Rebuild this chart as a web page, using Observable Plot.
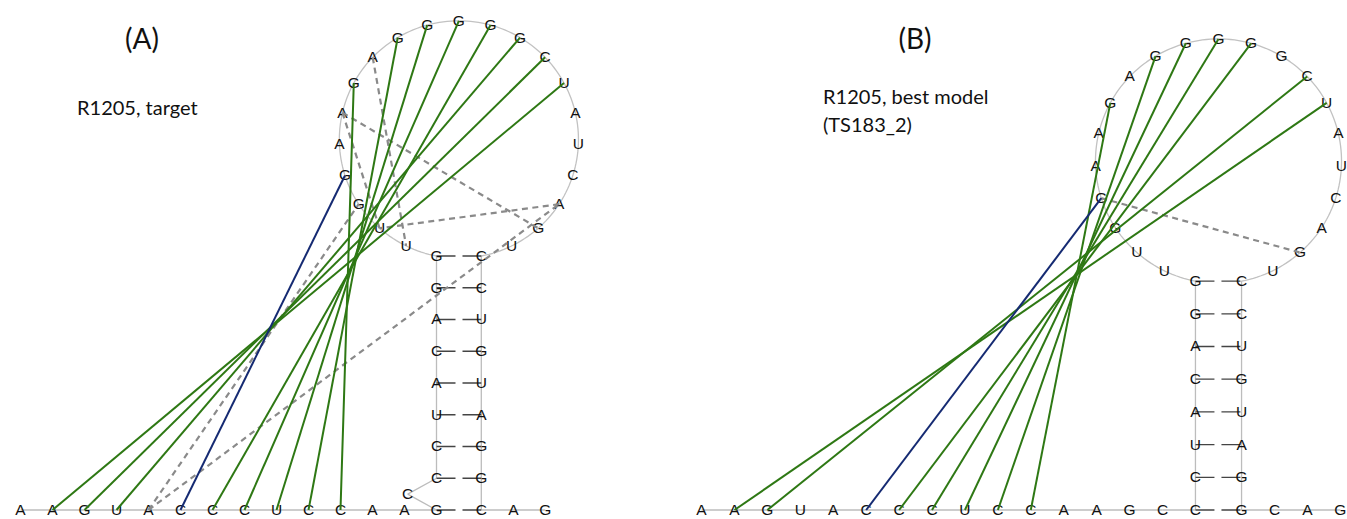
<!DOCTYPE html>
<html>
<head>
<meta charset="utf-8">
<script src="https://cdn.jsdelivr.net/npm/d3@7"></script>
<script src="https://cdn.jsdelivr.net/npm/@observablehq/plot@0.6"></script>
<style>
  html, body { margin: 0; padding: 0; background: #fff; }
  #wrap { position: relative; width: 1347px; height: 519px; display: flex; }
  .lbl { position: absolute; font-family: Lato, "Open Sans", sans-serif; color: #111; line-height: 1; white-space: nowrap; }
</style>
</head>
<body>
<div id="wrap"></div>
<script>
// ---------- DATA ----------
const sequence = "AAGUACCCUCCAAGCCCUACAGGUUGGAAGAGGGGGCUAUCAGUCCUGUAGGCAG";
// secondary structures (dot-bracket)
const structureA = ".".repeat(13) + "(" + "." + "((((((((" + ".".repeat(21) + "))))))))" + ")" + "..";
const structureB = ".".repeat(15) + "((((((((" + ".".repeat(21) + "))))))))" + "...";
// tertiary interactions (1-based nucleotide indices)
const greenA = [[2,38],[3,37],[4,36],[7,35],[8,34],[9,33],[10,32],[11,30]];
const blueA = [[6,27]];
const dashedA = [[5,26],[5,42],[29,43],[29,25],[31,24],[42,25]];
const greenB = [[2,38],[3,37],[7,35],[8,34],[9,33],[10,32],[11,30]];
const blueB = [[6,27]];
const dashedB = [[27,43]];
// panel texts
const panelTitles = ["(A)", "(B)"];
const panelNotes = [["R1205, target"], ["R1205, best model", "(TS183_2)"]];

// ---------- LAYOUT (computed from structure) ----------
const PAIR_W = 1.4; // width of a base pair, in nucleotide spacings
function layout(structure) {
  const n = structure.length, w = PAIR_W;
  const pair = new Array(n).fill(-1), stack = [];
  for (let i = 0; i < n; i++) {
    if (structure[i] === "(") stack.push(i);
    else if (structure[i] === ")") { const j = stack.pop(); pair[i] = j; pair[j] = i; }
  }
  const pos = new Array(n), stemPairs = [], loops = [], arcs = [];
  function placeLoop(i, j, L, row) {
    const m = j - i - 1;
    const f = R => (m + 1) * Math.asin(1 / (2 * R)) + Math.asin(w / (2 * R)) - Math.PI;
    let lo = Math.max(0.51, w / 2 + 1e-6), hi = 100;
    for (let it = 0; it < 100; it++) { const mid = (lo + hi) / 2; if (f(mid) > 0) lo = mid; else hi = mid; }
    const R = (lo + hi) / 2;
    const cx = L + w / 2, cy = row + Math.sqrt(R * R - w * w / 4);
    const t0 = Math.atan2(row - cy, L - cx), step = 2 * Math.asin(1 / (2 * R));
    for (let k = 1; k <= m; k++) {
      const t = t0 - k * step;
      pos[i + k] = {x: cx + R * Math.cos(t), y: cy + R * Math.sin(t)};
    }
    const tEnd = t0 - (m + 1) * step, pts = [];
    for (let s = 0; s <= 180; s++) {
      const t = t0 + (tEnd - t0) * s / 180;
      pts.push({x: cx + R * Math.cos(t), y: cy + R * Math.sin(t)});
    }
    arcs.push(pts);
    loops.push([i, j]);
  }
  function placeHelix(i, j, L, row) {
    pos[i] = {x: L, y: row}; pos[j] = {x: L + w, y: row};
    stemPairs.push([i, j]);
    let a = i + 1;
    while (a < j && pair[a] < 0) a++;
    if (a >= j) { placeLoop(i, j, L, row); return; }
    const b = pair[a];
    const nl = a - i - 1, nr = j - b - 1;
    for (let k = 0; k < nl; k++) pos[i + 1 + k] = {x: L - 0.9, y: row + (k + 1) / (nl + 1)};
    for (let k = 0; k < nr; k++) pos[j - 1 - k] = {x: L + w + 0.9, y: row + (k + 1) / (nr + 1)};
    placeHelix(a, b, L, row + 1);
  }
  let cursor = 0, i = 0;
  while (i < n) {
    if (pair[i] < 0) { pos[i] = {x: cursor, y: 0}; cursor += 1; i++; }
    else { const j = pair[i]; placeHelix(i, j, cursor, 0); cursor += w + 1; i = j + 1; }
  }
  const nts = pos.map((p, k) => ({...p, base: sequence[k]}));
  const backbone = [];
  for (let k = 0; k < n - 1; k++) {
    if (loops.some(([a, b]) => a <= k && k + 1 <= b)) continue;
    backbone.push({x1: pos[k].x, y1: pos[k].y, x2: pos[k + 1].x, y2: pos[k + 1].y});
  }
  const pairs = stemPairs.map(([a, b]) => ({x1: pos[a].x, y1: pos[a].y, x2: pos[b].x, y2: pos[b].y}));
  const link = list => list.map(([a, b]) => ({x1: pos[a - 1].x, y1: pos[a - 1].y, x2: pos[b - 1].x, y2: pos[b - 1].y}));
  return {nts, backbone, pairs, arcs, link};
}

// ---------- DRAW ----------
const panels = [
  {structure: structureA, green: greenA, blue: blueA, dashed: dashedA,
   width: 673, originX: 20, unitX: 32, baseY: 509.5, unitY: 31.75},
  {structure: structureB, green: greenB, blue: blueB, dashed: dashedB,
   width: 674, originX: 28, unitX: 32.93, baseY: 509.5, unitY: 32.7}
];
const H = 519;
const wrap = document.getElementById("wrap");
panels.forEach(p => {
  const L = layout(p.structure);
  const chart = Plot.plot({
    width: p.width, height: H, margin: 0,
    x: {domain: [-p.originX / p.unitX, (p.width - p.originX) / p.unitX], axis: null},
    y: {domain: [-(H - p.baseY) / p.unitY, p.baseY / p.unitY], axis: null},
    marks: [
      ...L.arcs.map(a => Plot.line(a, {x: "x", y: "y", stroke: "#c2c2c2", strokeWidth: 1.3})),
      Plot.link(L.backbone, {x1: "x1", y1: "y1", x2: "x2", y2: "y2", stroke: "#bcbcbc", strokeWidth: 1.3}),
      Plot.link(L.pairs, {x1: "x1", y1: "y1", x2: "x2", y2: "y2", stroke: "#444", strokeWidth: 1.3, strokeDasharray: "19,7"}),
      Plot.text(L.nts, {x: "x", y: "y", text: "base", fontSize: 15.5, fontFamily: "'Liberation Sans', Arial, sans-serif", fill: "#111"}),
      Plot.link(L.link(p.dashed), {x1: "x1", y1: "y1", x2: "x2", y2: "y2", stroke: "#8a8a8a", strokeWidth: 2.2, strokeDasharray: "6,4.5"}),
      Plot.link(L.link(p.green), {x1: "x1", y1: "y1", x2: "x2", y2: "y2", stroke: "#2e7814", strokeWidth: 2}),
      Plot.link(L.link(p.blue), {x1: "x1", y1: "y1", x2: "x2", y2: "y2", stroke: "#152a72", strokeWidth: 2})
    ]
  });
  wrap.appendChild(chart);
});

// titles & notes (HTML overlays)
const titleSpots = [{cx: 142, top: 24}, {cx: 915, top: 24}];
const noteSpots = [{left: 77, top: 97}, {left: 823, top: 86}];
panelTitles.forEach((t, k) => {
  const d = document.createElement("div");
  d.className = "lbl"; d.textContent = t;
  d.style.fontSize = "28px"; d.style.top = titleSpots[k].top + "px";
  d.style.left = titleSpots[k].cx + "px"; d.style.transform = "translateX(-50%)";
  wrap.appendChild(d);
});
panelNotes.forEach((lines, k) => {
  lines.forEach((t, m) => {
    const d = document.createElement("div");
    d.className = "lbl"; d.textContent = t;
    d.style.fontSize = "20px";
    d.style.left = noteSpots[k].left + "px";
    d.style.top = (noteSpots[k].top + m * 28) + "px";
    wrap.appendChild(d);
  });
});
</script>
</body>
</html>
